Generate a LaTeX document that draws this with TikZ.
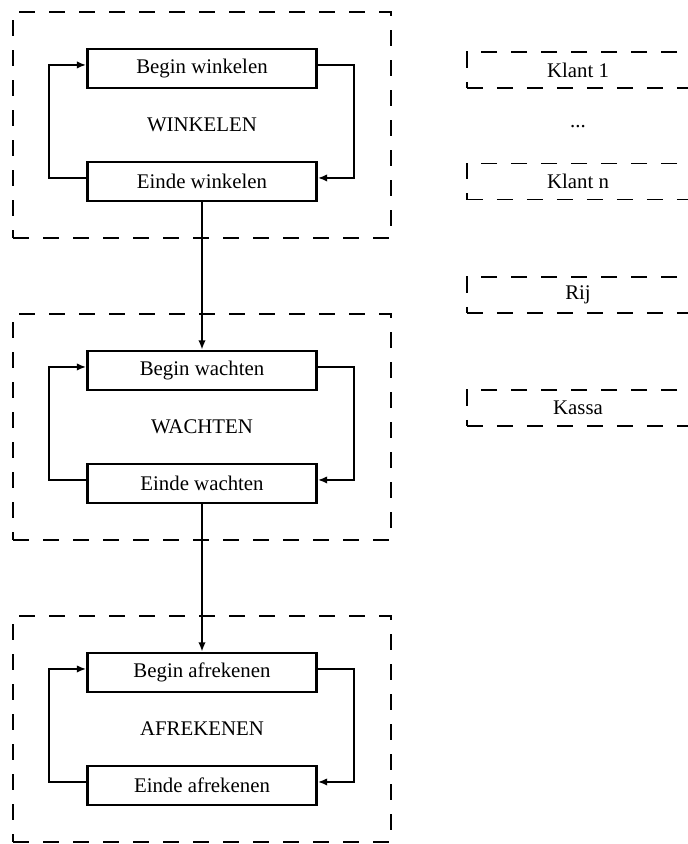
\documentclass[tikz,border=0pt]{standalone}
\usepackage{fontspec}
\setmainfont{Liberation Serif}
\usetikzlibrary{arrows.meta}
\tikzset{
  fase/.style={draw, line width=1pt, dash pattern=on 7.7pt off 6.7pt,
    minimum width=181.4pt, minimum height=108.5pt, font=\fontsize{10}{12}\selectfont},
  stap/.style={draw, line width=1.3pt, inner sep=0pt,
    minimum width=109.9pt, minimum height=18.7pt, font=\fontsize{10}{12}\selectfont},
  object/.style={draw, line width=0.9pt, dash pattern=on 7.7pt off 6.7pt, inner sep=0pt,
    minimum width=106.6pt, minimum height=17.3pt, font=\fontsize{10}{12}\selectfont},
  lus/.style={line width=0.9pt, -{Latex[length=4.5pt, width=3.6pt]}},
  overgang/.style={line width=1.4pt, -{Latex[length=4.5pt, width=3.6pt]}},
}

\begin{document}
\begin{tikzpicture}[x=0.48pt, y=-0.48pt]
\useasboundingbox (0,0) rectangle (688,844);
% winkelen
\node[fase] (winkelen) at (202,125) {WINKELEN};
\node[stap] (beginW) at (202,68.5) {Begin winkelen};
\node[stap] (eindeW) at (202,181.5) {Einde winkelen};
\draw[lus] ([yshift=1.7pt]eindeW.west) -- ++(-37.5,0) |- ([yshift=1.7pt]beginW.west);
\draw[lus] ([yshift=1.7pt]beginW.east) -- ++(36.5,0) |- ([yshift=1.7pt]eindeW.east);
% wachten
\node[fase] (wachten) at (202,427) {WACHTEN};
\node[stap] (beginWa) at (202,370.5) {Begin wachten};
\node[stap] (eindeWa) at (202,483.5) {Einde wachten};
\draw[lus] ([yshift=1.7pt]eindeWa.west) -- ++(-37.5,0) |- ([yshift=1.7pt]beginWa.west);
\draw[lus] ([yshift=1.7pt]beginWa.east) -- ++(36.5,0) |- ([yshift=1.7pt]eindeWa.east);
% afrekenen
\node[fase] (afrekenen) at (202,729) {AFREKENEN};
\node[stap] (beginA) at (202,672.5) {Begin afrekenen};
\node[stap] (eindeA) at (202,785.5) {Einde afrekenen};
\draw[lus] ([yshift=1.7pt]eindeA.west) -- ++(-37.5,0) |- ([yshift=1.7pt]beginA.west);
\draw[lus] ([yshift=1.7pt]beginA.east) -- ++(36.5,0) |- ([yshift=1.7pt]eindeA.east);
% overgangen
\draw[overgang] (eindeW.south) -- (beginWa.north);
\draw[overgang] (eindeWa.south) -- (beginA.north);
% objecten
\node[object] (klant1) at (578,70) {Klant 1};
\node (puntjes) at (578,127) {...};
\node[object] (klantn) at (578,181.5) {Klant n};
\node[object] (rij) at (578,295) {Rij};
\node[object] (kassa) at (578,408) {Kassa};
\end{tikzpicture}
\end{document}
